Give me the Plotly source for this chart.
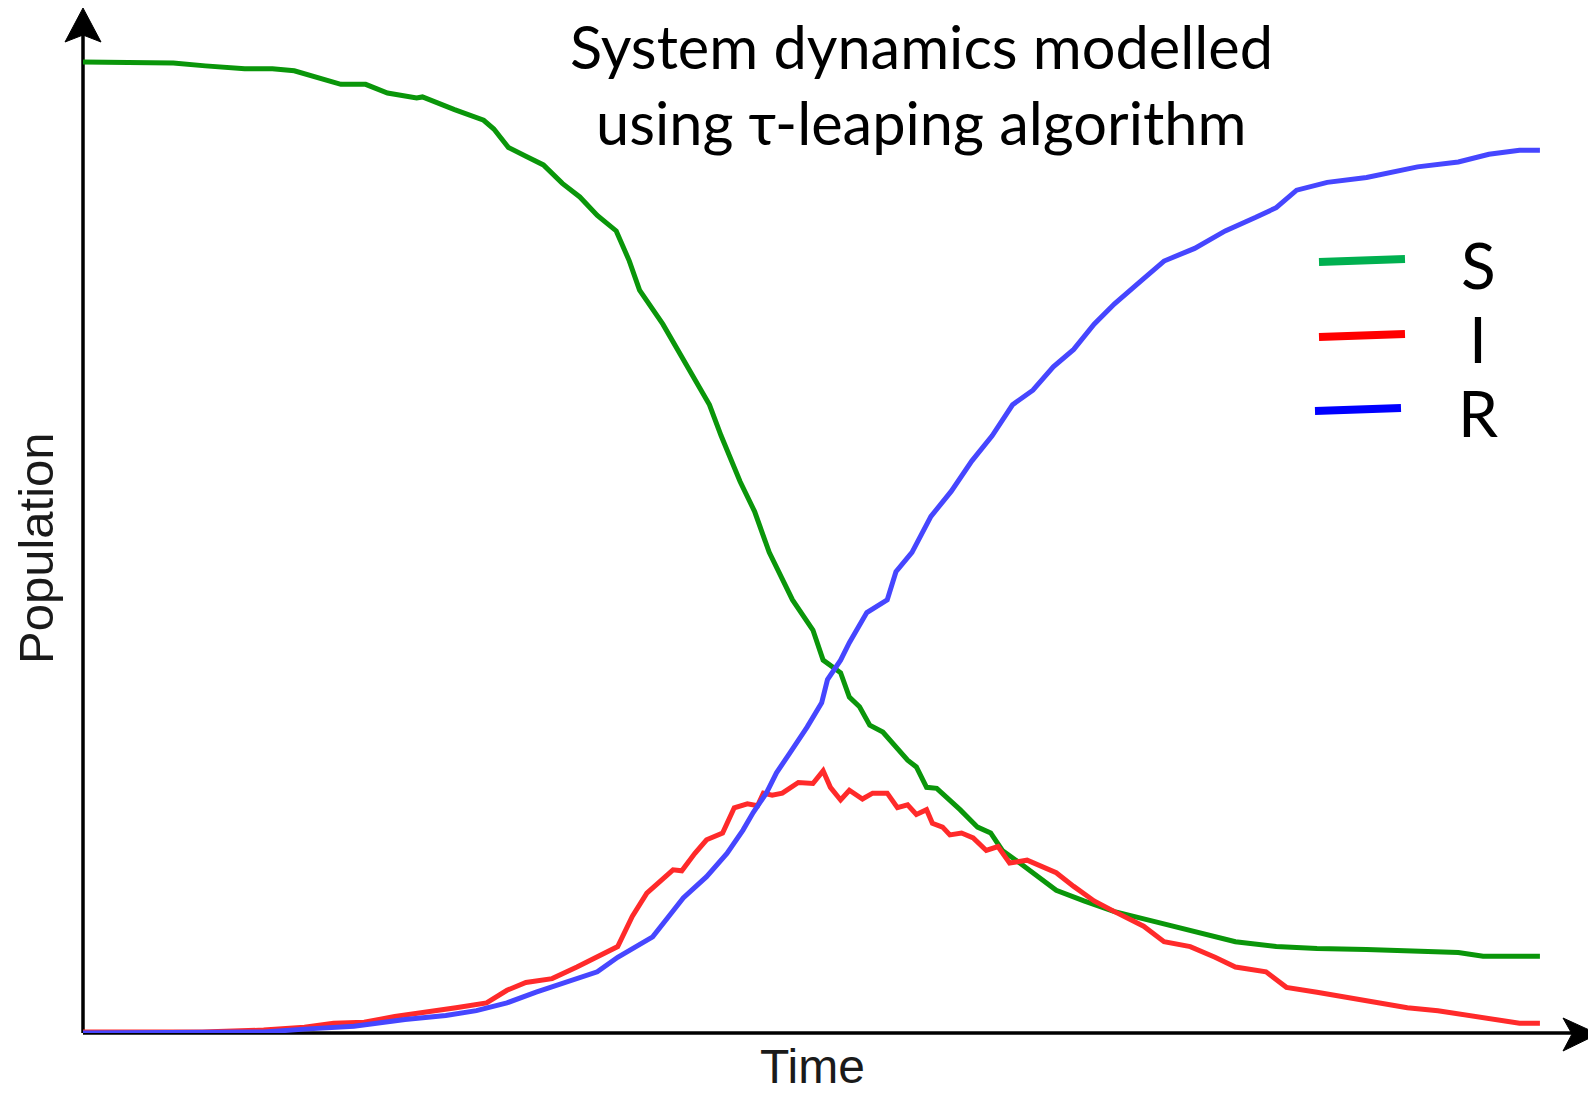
import plotly.graph_objects as go

# Stochastic SIR trajectories (tau-leaping), population out of 1000
t_S = [0, 6.2, 8.4, 11.1, 13.0, 14.5, 17.0, 17.7, 19.4, 20.9, 22.9, 23.3, 25.5, 27.5, 28.2, 29.2,
       30.4, 31.6, 32.9, 34.1, 35.3, 36.6, 37.5, 38.2, 39.8, 41.6, 43.0, 43.8, 45.1, 46.1, 47.1,
       48.7, 50.1, 50.8, 52.0, 52.6, 53.3, 54.0, 54.9, 56.6, 57.2, 57.9, 58.6, 60.2, 61.4, 62.3,
       63.1, 64.3, 65.5, 66.8, 68.7, 70.8, 73.5, 76.3, 79.1, 81.9, 84.7, 88.1, 91.6, 94.4, 96.1, 100]
S = [1000, 999, 996, 993, 993, 991, 980, 977, 977, 968, 963, 964, 951, 940, 931, 912,
     903, 894, 875, 861, 842, 826, 795, 765, 730, 683, 647, 615, 568, 537, 495,
     446, 415, 384, 371, 346, 336, 317, 310, 281, 274, 253, 252, 230, 212, 206,
     188, 175, 161, 147, 136, 125, 115, 104, 94, 89, 87, 86, 84, 83, 79, 79]

t_I = [0, 8.2, 12.4, 15.2, 17.2, 19.3, 21.4, 23.5, 25.6, 27.7, 29.1, 30.4, 32.2, 33.9, 35.3,
       36.7, 37.7, 38.7, 40.5, 41.1, 42.0, 42.8, 43.9, 44.7, 45.6, 46.3, 46.7, 47.3, 48.0, 49.1,
       50.1, 50.8, 51.3, 52.0, 52.6, 53.5, 54.2, 55.2, 55.9, 56.6, 57.2, 57.9, 58.3, 59.0, 59.5,
       60.3, 61.1, 62.0, 62.8, 63.6, 64.8, 65.9, 66.8, 68.0, 69.4, 70.8, 72.8, 74.2, 76.0, 77.7,
       79.1, 81.2, 82.6, 84.7, 86.8, 88.8, 90.9, 93.0, 95.1, 97.2, 98.6, 100]
I = [1, 1, 3, 6, 10, 11, 17, 21, 26, 31, 44, 52, 56, 68, 78,
     89, 120, 144, 168, 167, 185, 199, 206, 232, 236, 234, 247, 245, 247, 258,
     257, 270, 253, 240, 250, 241, 247, 247, 232, 235, 225, 230, 216, 212, 204,
     206, 201, 188, 192, 175, 178, 171, 165, 151, 136, 125, 110, 94, 89, 78,
     68, 63, 47, 42, 37, 31, 26, 23, 18, 13, 10, 10]

t_R = [0, 8.2, 12.4, 15.2, 18.6, 22.1, 24.9, 27.0, 29.1, 31.1, 33.2, 35.3, 36.7, 37.7, 39.1,
       40.2, 41.2, 42.8, 44.2, 45.3, 46.0, 46.9, 47.6, 48.5, 49.7, 50.7, 51.1, 52.0, 52.6, 53.8,
       55.2, 55.8, 56.9, 58.2, 59.6, 61.0, 62.4, 63.8, 65.2, 66.6, 68.0, 69.4, 70.8, 72.8, 74.2,
       76.3, 78.4, 80.5, 81.9, 83.3, 85.4, 88.1, 91.6, 94.4, 96.5, 98.6, 100]
R = [0, 0, 1, 4, 7, 14, 18, 23, 31, 42, 52, 63, 78, 87, 99,
     120, 139, 161, 185, 209, 227, 247, 268, 288, 315, 340, 364, 384, 402, 433,
     446, 475, 495, 532, 558, 589, 615, 647, 662, 686, 704, 730, 751, 777, 795,
     808, 826, 840, 850, 868, 876, 881, 892, 897, 905, 909, 909]

series_names = ["S", "I", "R"]
line_colors = ["#0a960a", "#ff2a2a", "#4646ff"]
key_colors = ["#00b050", "#ff0000", "#0000ff"]

W, H = 1588, 1096
L, B, T = 83, 63, 8
PW, PH = W - L, H - B - T


def px(x):
    return (x - L) / PW


def py(y):
    return (H - B - y) / PH


fig = go.Figure()
for name, tx, vals, col in zip(series_names, [t_S, t_I, t_R], [S, I, R], line_colors):
    fig.add_trace(go.Scatter(x=tx, y=vals, mode="lines", name=name,
                             line=dict(color=col, width=5), cliponaxis=False,
                             showlegend=False))

shapes = []
# axes with arrowheads
shapes.append(dict(type="line", xref="paper", yref="paper", x0=0, x1=0, y0=0, y1=py(30),
                   line=dict(color="black", width=3.5), layer="below"))
shapes.append(dict(type="line", xref="paper", yref="paper", x0=0, x1=px(1575), y0=0, y1=0,
                   line=dict(color="black", width=3.5), layer="below"))
shapes.append(dict(type="path", xref="paper", yref="paper",
                   path=f"M {px(83)},{py(8)} L {px(65)},{py(42)} L {px(83)},{py(35)} "
                        f"L {px(101)},{py(42)} Z",
                   fillcolor="black", line=dict(color="black", width=1)))
shapes.append(dict(type="path", xref="paper", yref="paper",
                   path=f"M {px(1598)},{py(1034)} L {px(1563)},{py(1018)} L {px(1572)},{py(1034)} "
                        f"L {px(1563)},{py(1051)} Z",
                   fillcolor="black", line=dict(color="black", width=1)))

# key: short coloured strokes next to the series letters
key_rows = [(1319, 262, 1405, 259), (1319, 337, 1405, 334), (1315, 411, 1401, 408)]
for (x0, y0, x1, y1), col in zip(key_rows, key_colors):
    shapes.append(dict(type="line", xref="paper", yref="paper",
                       x0=px(x0), y0=py(y0), x1=px(x1), y1=py(y1),
                       line=dict(color=col, width=8)))

annotations = []
key_text_y = [264, 339, 412]
for name, yy in zip(series_names, key_text_y):
    annotations.append(dict(text=name, xref="paper", yref="paper", x=px(1478), y=py(yy),
                            xanchor="center", yanchor="middle", showarrow=False,
                            font=dict(family="Lato", size=64, color="black")))

annotations.append(dict(text="System dynamics modelled", xref="paper", yref="paper",
                        x=px(921), y=py(46), xanchor="center", yanchor="middle", showarrow=False,
                        font=dict(family="Lato", size=59.5, color="black")))
annotations.append(dict(text="using τ-leaping algorithm", xref="paper", yref="paper",
                        x=px(921), y=py(122), xanchor="center", yanchor="middle", showarrow=False,
                        font=dict(family="Lato", size=59.5, color="black")))

annotations.append(dict(text="Time", xref="paper", yref="paper", x=px(812), y=py(1095),
                        xanchor="center", yanchor="bottom", showarrow=False,
                        font=dict(family="Liberation Sans", size=48, color="#1a1a1a")))
annotations.append(dict(text="Population", xref="paper", yref="paper", x=px(36), y=py(548),
                        xanchor="center", yanchor="middle", showarrow=False, textangle=-90,
                        font=dict(family="Liberation Sans", size=49, color="#1a1a1a")))

fig.update_layout(
    width=W, height=H,
    margin=dict(l=L, r=0, t=T, b=B, pad=0),
    paper_bgcolor="white", plot_bgcolor="white",
    xaxis=dict(range=[0, 103.3], visible=False, fixedrange=True),
    yaxis=dict(range=[0, 1055.6], visible=False, fixedrange=True),
    shapes=shapes, annotations=annotations,
)

fig.write_html("out.html")
